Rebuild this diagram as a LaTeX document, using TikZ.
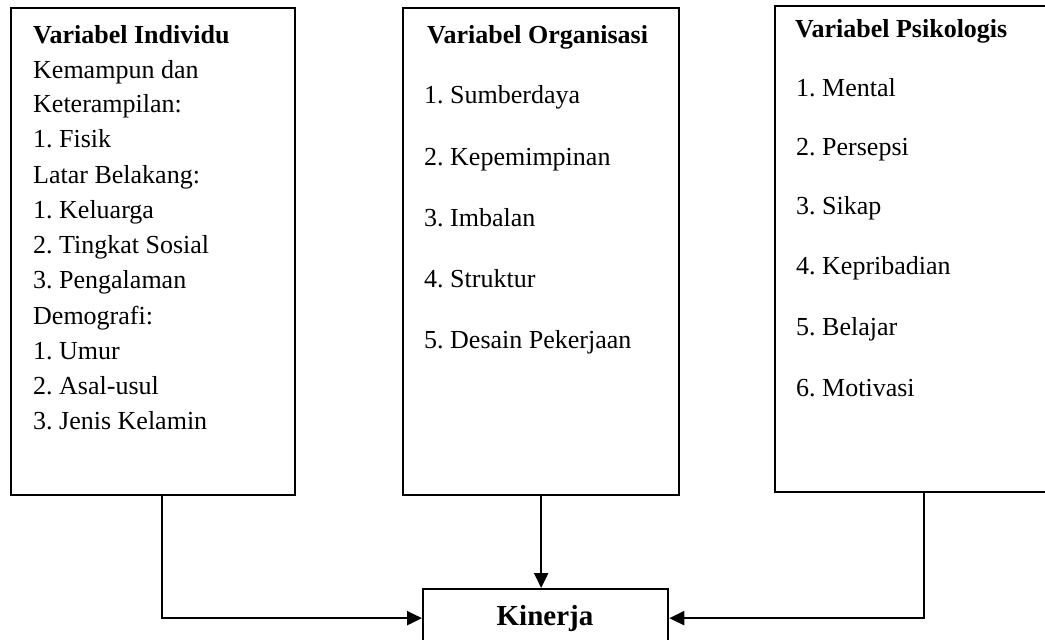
\documentclass[tikz,border=0pt]{standalone}
\usepackage{fontspec}
\setmainfont{Liberation Serif}
\usetikzlibrary{arrows.meta}
\frenchspacing
\begin{document}
\begin{tikzpicture}[x=1pt,y=-1pt,
  box/.style={draw=black, line width=2.3pt, rectangle, inner sep=0pt, anchor=north west},
  txt/.style={anchor=base west, inner sep=0pt, font=\fontsize{26}{30}\selectfont},
  ttl/.style={anchor=base west, inner sep=0pt, font=\fontsize{26}{30}\selectfont\bfseries},
  conn/.style={draw=black, line width=2.3pt, -{Triangle[length=15pt,width=14pt]}}]
\useasboundingbox (0,0) rectangle (1045,640);
\clip (0,0) rectangle (1045,640);
\fill[white] (0,0) rectangle (1045,640);
% boxes
\node[box, minimum width=284pt, minimum height=487pt] (b1) at (10,7) {};
\node[box, minimum width=276pt, minimum height=487pt] (b2) at (402,7) {};
\node[box, minimum width=290pt, minimum height=486pt] (b3) at (774,5) {};
\node[box, minimum width=245pt, minimum height=58pt] (kin) at (422,588) {};
% box 1 text
\node[ttl] (t1) at (33,43) {Variabel Individu};
\node[txt] (t1a) at (33,78) {Kemampun dan};
\node[txt] (t1b) at (33,112) {Keterampilan:};
\node[txt] (t1c) at (33,147) {1. Fisik};
\node[txt] (t1d) at (33,183) {Latar Belakang:};
\node[txt] (t1e) at (33,218) {1. Keluarga};
\node[txt] (t1f) at (33,253) {2. Tingkat Sosial};
\node[txt] (t1g) at (33,288) {3. Pengalaman};
\node[txt] (t1h) at (33,324) {Demografi:};
\node[txt] (t1i) at (33,359) {1. Umur};
\node[txt] (t1j) at (33,394) {2. Asal-usul};
\node[txt] (t1k) at (33,429) {3. Jenis Kelamin};
% box 2 text
\node[ttl] (t2) at (427,43) {Variabel Organisasi};
\node[txt] (t2a) at (424,103) {1. Sumberdaya};
\node[txt] (t2b) at (424,165) {2. Kepemimpinan};
\node[txt] (t2c) at (424,226) {3. Imbalan};
\node[txt] (t2d) at (424,287) {4. Struktur};
\node[txt] (t2e) at (424,348) {5. Desain Pekerjaan};
% box 3 text
\node[ttl] (t3) at (795,37) {Variabel Psikologis};
\node[txt] (t3a) at (796,96) {1. Mental};
\node[txt] (t3b) at (796,155) {2. Persepsi};
\node[txt] (t3c) at (796,214) {3. Sikap};
\node[txt] (t3d) at (796,274) {4. Kepribadian};
\node[txt] (t3e) at (796,335) {5. Belajar};
\node[txt] (t3f) at (796,396) {6. Motivasi};
% Kinerja text
\node[anchor=base, inner sep=0pt, font=\fontsize{29}{33}\selectfont\bfseries] (kt) at (545,625) {Kinerja};
% connectors
\coordinate (c1) at (162,494);
\coordinate (c3) at (924,491);
\draw[conn] (c1) |- (kin.west);
\draw[conn] (b2.south) -- (b2.south |- kin.north);
\draw[conn] (c3) |- (kin.east);
\end{tikzpicture}
\end{document}
